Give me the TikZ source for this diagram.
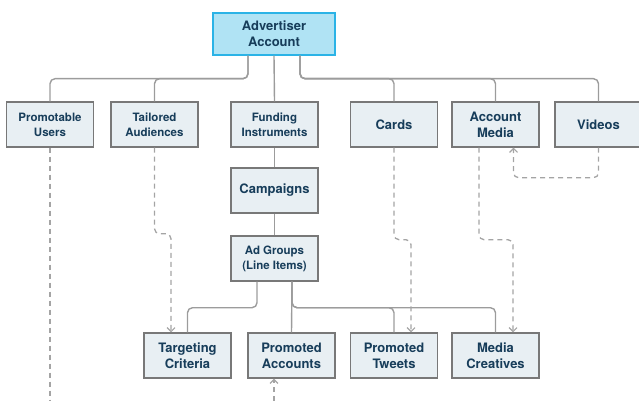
\documentclass[tikz,border=0pt]{standalone}
\usepackage{fontspec}
\setmainfont{TeX Gyre Heros}
\usetikzlibrary{arrows.meta}
\definecolor{boxfill}{HTML}{E8EFF3}
\definecolor{boxline}{HTML}{787878}
\definecolor{topfill}{HTML}{B0E3F4}
\definecolor{topline}{HTML}{2BB3E6}
\definecolor{txt}{HTML}{173D5A}
\definecolor{conn}{HTML}{9C9C9C}
\definecolor{dconn}{HTML}{A4A4A4}
\tikzset{
  ent/.style={draw=boxline, fill=boxfill, line width=1.4pt, minimum width=87pt, minimum height=45pt,
    inner sep=0pt, align=center, text=txt, font=\bfseries\fontsize{13}{16}\selectfont},
  entsmall/.style={ent, font=\bfseries\fontsize{11.5}{15}\selectfont},
  topent/.style={ent, draw=topline, fill=topfill, minimum width=122pt, minimum height=42pt},
  link/.style={draw=conn, line width=1.4pt, rounded corners=5pt},
  ref/.style={draw=dconn, line width=1.3pt, dash pattern=on 5pt off 4pt, rounded corners=5pt,
    -{Straight Barb[length=4pt,width=8pt,line width=1.1pt]}},
  refplain/.style={draw=dconn, line width=1.3pt, dash pattern=on 5pt off 4pt}
}
\begin{document}
\begin{tikzpicture}[x=1pt,y=-1pt]
\useasboundingbox (0,0) rectangle (639,401);
\node[topent] (adv) at (274,34) {Advertiser\\Account};
\node[entsmall] (pu) at (50,124.5) {Promotable\\Users};
\node[entsmall] (ta) at (154.5,124.5) {Tailored\\Audiences};
\node[entsmall] (fi) at (274.5,124.5) {Funding\\Instruments};
\node[ent] (cards) at (394,124.5) {Cards};
\node[ent] (am) at (495.5,124.5) {Account\\Media};
\node[ent] (vid) at (598.5,124.5) {Videos};
\node[ent] (camp) at (274.5,190.5) {Campaigns};
\node[entsmall] (ag) at (274.5,258.5) {Ad Groups\\(Line Items)};
\node[ent] (tc) at (187.5,355.5) {Targeting\\Criteria};
\node[ent] (pa) at (291.5,355.5) {Promoted\\Accounts};
\node[ent] (pt) at (394,355.5) {Promoted\\Tweets};
\node[ent] (mc) at (495.5,355.5) {Media\\Creatives};
\coordinate (pubot) at (50,401);
\coordinate (pabot) at (274,401);
% solid hierarchy
\draw[link] ([xshift=-26pt]adv.south) -- ++(0,23) -| (pu.north);
\draw[link] ([xshift=-26pt]adv.south) -- ++(0,23) -| (ta.north);
\draw[link] (adv.south) -- (fi.north);
\draw[link] ([xshift=26pt]adv.south) -- ++(0,23) -| (cards.north);
\draw[link] ([xshift=26pt]adv.south) -- ++(0,23) -| (am.north);
\draw[link] ([xshift=26pt]adv.south) -- ++(0,23) -| (vid.north);
\draw[link] (fi.south) -- (camp.north);
\draw[link] (camp.south) -- (ag.north);
\draw[link] ([xshift=-17.5pt]ag.south) -- ++(0,26) -| (tc.north);
\draw[link] ([xshift=17.5pt]ag.south) -- (pa.north);
\draw[link] ([xshift=17.5pt]ag.south) -- ++(0,26) -| (pt.north);
\draw[link] ([xshift=17.5pt]ag.south) -- ++(0,26) -| (mc.north);
% dashed references
\draw[refplain] (pu.south) -- (pubot);
\draw[ref] (ta.south) -- ++(0,86) -| ([xshift=-16.5pt]tc.north);
\draw[ref] (cards.south) -- ++(0,92) -| ([xshift=17pt]pt.north);
\draw[ref] ([xshift=-16.5pt]am.south) -- ++(0,92) -| ([xshift=17.5pt]mc.north);
\draw[ref] (vid.south) -- ++(0,30) -| ([xshift=18pt]am.south);
\draw[ref] (pabot) -- ([xshift=-17.5pt]pa.south);
\end{tikzpicture}
\end{document}
